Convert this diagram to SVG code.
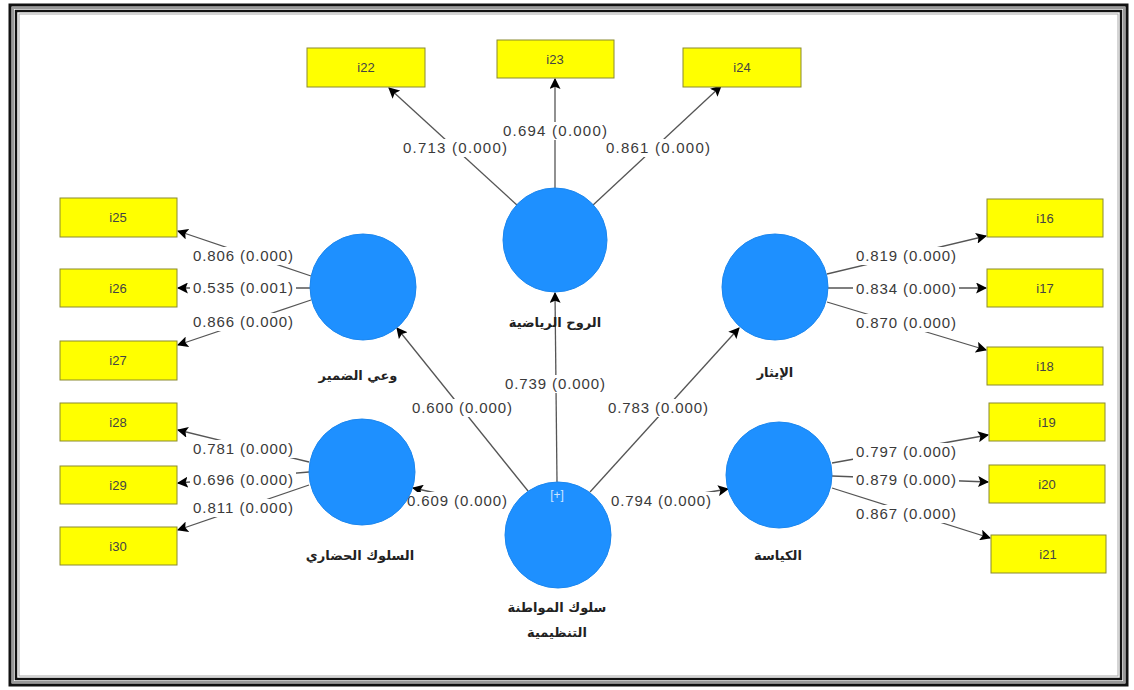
<svg xmlns="http://www.w3.org/2000/svg" width="1134" height="690" viewBox="0 0 1134 690">
<defs>
<marker id="ah" viewBox="0 0 10 10" refX="9" refY="5" markerWidth="11" markerHeight="11" markerUnits="userSpaceOnUse" orient="auto">
<path d="M0,0 L10,5 L0,10 L2,5 z" fill="#000"/>
</marker>
<style>
.lv{fill:#1e90ff;stroke:#1b86ee;stroke-width:1}
.mv rect{fill:#ffff00;stroke:#8a8a30;stroke-width:1}
.mv text{font-family:"Liberation Sans",Arial,sans-serif;font-size:13px;fill:#444;text-anchor:middle}
.cn line{stroke:#555;stroke-width:1.3;marker-end:url(#ah)}
.cl rect{fill:#fff}
.cl text{font-family:"Liberation Sans",Arial,sans-serif;font-size:15px;fill:#3a3a3a;text-anchor:middle}
.ar{font-family:"DejaVu Sans",sans-serif;font-size:13px;font-weight:bold;fill:#222;text-anchor:middle}
</style>
</defs>
<rect x="0" y="0" width="1134" height="690" fill="#fff"/>
<g id="frame" fill="none">
<rect x="10" y="5" width="1117" height="680" stroke="#111" stroke-width="3"/>
<rect x="13" y="8" width="1111" height="674" stroke="#999" stroke-width="2"/>
<rect x="16" y="11" width="1105" height="668" stroke="#111" stroke-width="2.5"/>
<rect x="19" y="14" width="1099" height="662" stroke="#aaa" stroke-width="1"/>
</g>
<g id="connectors" class="cn">
<line x1="518" y1="206" x2="389" y2="88"/>
<line x1="555" y1="188" x2="555" y2="79"/>
<line x1="592" y1="206" x2="721" y2="86"/>
<line x1="311" y1="276" x2="178" y2="231"/>
<line x1="310" y1="288" x2="178" y2="288"/>
<line x1="311" y1="300" x2="178" y2="345"/>
<line x1="827" y1="274" x2="986" y2="236"/>
<line x1="828" y1="288" x2="986" y2="288"/>
<line x1="827" y1="302" x2="986" y2="350"/>
<line x1="309" y1="462" x2="178" y2="430"/>
<line x1="309" y1="472" x2="178" y2="483"/>
<line x1="309" y1="485" x2="178" y2="530"/>
<line x1="832" y1="463" x2="988" y2="435"/>
<line x1="832" y1="476" x2="988" y2="482"/>
<line x1="832" y1="488" x2="990" y2="538"/>
<line x1="528" y1="491" x2="397" y2="328"/>
<line x1="557" y1="482" x2="555" y2="293"/>
<line x1="590" y1="492" x2="739" y2="328"/>
<line x1="505" y1="508" x2="413" y2="488"/>
<line x1="612" y1="508" x2="728" y2="489"/>
</g>
<g id="edge-labels" class="cl">
<rect x="400" y="139" width="110" height="18"/><text x="455" y="153" textLength="104">0.713 (0.000)</text>
<rect x="500" y="122" width="110" height="18"/><text x="555" y="136" textLength="104">0.694 (0.000)</text>
<rect x="603" y="139" width="110" height="18"/><text x="658" y="153" textLength="104">0.861 (0.000)</text>
<rect x="190" y="247" width="106" height="18"/><text x="243" y="261" textLength="100">0.806 (0.000)</text>
<rect x="190" y="279" width="106" height="18"/><text x="243" y="293" textLength="100">0.535 (0.001)</text>
<rect x="190" y="313" width="106" height="18"/><text x="243" y="327" textLength="100">0.866 (0.000)</text>
<rect x="853" y="247" width="106" height="18"/><text x="906" y="261" textLength="100">0.819 (0.000)</text>
<rect x="853" y="280" width="106" height="18"/><text x="906" y="294" textLength="100">0.834 (0.000)</text>
<rect x="853" y="314" width="106" height="18"/><text x="906" y="328" textLength="100">0.870 (0.000)</text>
<rect x="190" y="440" width="106" height="18"/><text x="243" y="454" textLength="100">0.781 (0.000)</text>
<rect x="190" y="471" width="106" height="18"/><text x="243" y="485" textLength="100">0.696 (0.000)</text>
<rect x="190" y="499" width="106" height="18"/><text x="243" y="513" textLength="100">0.811 (0.000)</text>
<rect x="853" y="443" width="106" height="18"/><text x="906" y="457" textLength="100">0.797 (0.000)</text>
<rect x="853" y="471" width="106" height="18"/><text x="906" y="485" textLength="100">0.879 (0.000)</text>
<rect x="853" y="505" width="106" height="18"/><text x="906" y="519" textLength="100">0.867 (0.000)</text>
<rect x="409" y="399" width="106" height="18"/><text x="462" y="413" textLength="100">0.600 (0.000)</text>
<rect x="502" y="375" width="106" height="18"/><text x="555" y="389" textLength="100">0.739 (0.000)</text>
<rect x="605" y="399" width="106" height="18"/><text x="658" y="413" textLength="100">0.783 (0.000)</text>
<rect x="404" y="492" width="106" height="18"/><text x="457" y="506" textLength="100">0.609 (0.000)</text>
<rect x="608" y="492" width="106" height="18"/><text x="661" y="506" textLength="100">0.794 (0.000)</text>
</g>
<g id="lv-sportsmanship"><circle class="lv" cx="555" cy="240" r="52"/><text class="ar" x="555" y="327">الروح الرياضية</text></g>
<g id="lv-conscience"><circle class="lv" cx="363" cy="287" r="53"/><text class="ar" x="358" y="380">وعي الضمير</text></g>
<g id="lv-altruism"><circle class="lv" cx="775" cy="287" r="53"/><text class="ar" x="775" y="377">الإيثار</text></g>
<g id="lv-civic"><circle class="lv" cx="362" cy="472" r="53"/><text class="ar" x="360" y="560">السلوك الحضاري</text></g>
<g id="lv-courtesy"><circle class="lv" cx="779" cy="475" r="53"/><text class="ar" x="778" y="560">الكياسة</text></g>
<g id="lv-ocb"><circle class="lv" cx="558" cy="535" r="53"/><text x="557" y="499" font-family="Liberation Sans, sans-serif" font-size="12" fill="#cfe6ff" text-anchor="middle">[+]</text><text class="ar" x="557" y="612">سلوك المواطنة</text><text class="ar" x="557" y="637">التنظيمية</text></g>
<g id="mv-i22" class="mv"><rect x="307" y="48" width="118" height="39"/><text x="366" y="72">i22</text></g>
<g id="mv-i23" class="mv"><rect x="497" y="40" width="117" height="38"/><text x="555" y="64">i23</text></g>
<g id="mv-i24" class="mv"><rect x="683" y="48" width="118" height="39"/><text x="742" y="72">i24</text></g>
<g id="mv-i25" class="mv"><rect x="60" y="198" width="117" height="39"/><text x="118" y="222">i25</text></g>
<g id="mv-i26" class="mv"><rect x="60" y="269" width="117" height="38"/><text x="118" y="293">i26</text></g>
<g id="mv-i27" class="mv"><rect x="60" y="341" width="117" height="39"/><text x="118" y="365">i27</text></g>
<g id="mv-i28" class="mv"><rect x="60" y="403" width="117" height="38"/><text x="118" y="427">i28</text></g>
<g id="mv-i29" class="mv"><rect x="60" y="466" width="117" height="38"/><text x="118" y="490">i29</text></g>
<g id="mv-i30" class="mv"><rect x="60" y="527" width="117" height="38"/><text x="118" y="551">i30</text></g>
<g id="mv-i16" class="mv"><rect x="987" y="199" width="116" height="38"/><text x="1045" y="223">i16</text></g>
<g id="mv-i17" class="mv"><rect x="987" y="269" width="116" height="38"/><text x="1045" y="293">i17</text></g>
<g id="mv-i18" class="mv"><rect x="987" y="347" width="116" height="38"/><text x="1045" y="371">i18</text></g>
<g id="mv-i19" class="mv"><rect x="989" y="403" width="116" height="38"/><text x="1047" y="427">i19</text></g>
<g id="mv-i20" class="mv"><rect x="989" y="465" width="116" height="38"/><text x="1047" y="489">i20</text></g>
<g id="mv-i21" class="mv"><rect x="991" y="535" width="115" height="38"/><text x="1048" y="559">i21</text></g>
</svg>
